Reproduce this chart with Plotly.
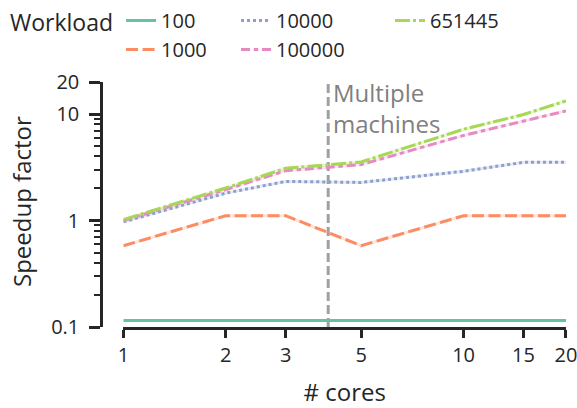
import math
import plotly.graph_objects as go

# ---------------- data ----------------
cores = [1, 2, 3, 5, 10, 15, 20]
workload_names = ["100", "1000", "10000", "100000", "651445"]
speedup_100 = [0.115, 0.115, 0.115, 0.115, 0.115, 0.115, 0.115]
speedup_1000 = [0.58, 1.11, 1.11, 0.58, 1.11, 1.11, 1.11]
speedup_10000 = [0.97, 1.81, 2.33, 2.28, 2.9, 3.52, 3.52]
speedup_100000 = [1.0, 1.95, 2.94, 3.35, 6.3, 8.6, 10.7]
speedup_651445 = [1.02, 2.02, 3.1, 3.55, 7.2, 9.9, 13.3]
x_tick_vals = [1, 2, 3, 5, 10, 15, 20]
x_tick_text = ["1", "2", "3", "5", "10", "15", "20"]
y_tick_vals = [0.1, 1, 10, 20]
y_tick_text = ["0.1", "1", "10", "20"]
y_minor_vals = [0.2, 0.3, 0.4, 0.5, 0.6, 0.7, 0.8, 0.9, 2, 3, 4, 5, 6, 7, 8, 9]
machines_threshold = 4
machines_label = "Multiple<br>machines"

series = [speedup_100, speedup_1000, speedup_10000, speedup_100000, speedup_651445]
colors = ["#66c2a5", "#fc8d62", "#8da0cb", "#e78ac3", "#a6d854"]
dashes = ["solid", "12px,4.5px", "3px,3px", "9px,3.75px,4.5px,3.75px", "15px,3px,3px,3px"]
legend_ids = ["legend", "legend", "legend2", "legend2", "legend3"]

FONT = "Open Sans"
TXT = "#262626"
FS_TEXT = 24
FS_NUM = 20

fig = go.Figure()

# vertical separator
fig.add_trace(go.Scatter(
    x=[machines_threshold, machines_threshold], y=[0.1, 20], mode="lines",
    line=dict(color="rgba(128,128,128,0.75)", width=3, dash="9px,4px"),
    showlegend=False, hoverinfo="skip", cliponaxis=False))

# faint halos under each line
for ys, c in zip(series, colors):
    fig.add_trace(go.Scatter(
        x=cores, y=ys, mode="lines", line=dict(color=c, width=3),
        opacity=0.22, showlegend=False, hoverinfo="skip", cliponaxis=False))

for name, ys, c, d, lg in zip(workload_names, series, colors, dashes, legend_ids):
    fig.add_trace(go.Scatter(
        x=cores, y=ys, mode="lines", name=name,
        line=dict(color=c, width=3, dash=d), legend=lg, cliponaxis=False))

W, H = 577, 408
left_px, right_px, top_px, bottom_px = 123.3, 565.7, 82.3, 326.7
yaxis_px = 101
paper_w = right_px  # margin l = 0
plot_h = bottom_px - top_px


def ydom(px):
    return (bottom_px - px) / plot_h


annotations = [
    dict(x=math.log10(machines_threshold), xref="x", y=ydom(108), yref="y domain",
         xanchor="left", yanchor="middle", xshift=3, align="left",
         text=machines_label, showarrow=False,
         font=dict(size=FS_TEXT, color="#808080")),
    dict(x=22 / paper_w, xref="paper", y=ydom(202), yref="y domain",
         xanchor="center", yanchor="middle", textangle=-90,
         text="Speedup factor", showarrow=False,
         font=dict(size=FS_TEXT, color=TXT)),
]

fig.update_layout(
    width=W, height=H,
    margin=dict(l=0, r=W - right_px, t=top_px, b=H - bottom_px, autoexpand=False),
    plot_bgcolor="white", paper_bgcolor="white",
    font=dict(family=FONT, size=FS_NUM, color=TXT),
    xaxis=dict(
        type="log", range=[0, math.log10(20)],
        domain=[left_px / paper_w, 1],
        tickmode="array", tickvals=x_tick_vals, ticktext=x_tick_text,
        ticks="outside", ticklen=8, tickwidth=2.5, tickcolor=TXT,
        showline=True, linewidth=2.5, linecolor=TXT,
        showgrid=False, zeroline=False, anchor="y",
        title=dict(text="# cores", standoff=20, font=dict(size=FS_TEXT)),
        tickfont=dict(size=FS_NUM), ticklabeloverflow="allow",
    ),
    yaxis=dict(
        type="log", range=[-1, math.log10(20)],
        anchor="free", position=yaxis_px / paper_w,
        tickmode="array", tickvals=y_tick_vals, ticktext=y_tick_text,
        ticks="outside", ticklen=11, tickwidth=2.5, tickcolor=TXT,
        minor=dict(tickmode="array", tickvals=y_minor_vals, ticks="outside",
                   ticklen=6, tickwidth=2, tickcolor=TXT, showgrid=False),
        showline=True, linewidth=2.5, linecolor=TXT,
        showgrid=False, zeroline=False,
        tickfont=dict(size=FS_NUM), ticklabelstandoff=6,
        ticklabeloverflow="allow",
    ),
    legend=dict(
        xref="container", yref="container", x=8 / W, y=1 - 1 / H,
        xanchor="left", yanchor="top", orientation="v",
        title=dict(text="Workload", side="left", font=dict(size=FS_TEXT - 1)),
        font=dict(size=FS_NUM), bgcolor="rgba(0,0,0,0)", itemwidth=30,
    ),
    legend2=dict(
        xref="container", yref="container", x=236 / W, y=1 - 1 / H,
        xanchor="left", yanchor="top", orientation="v",
        font=dict(size=FS_NUM), bgcolor="rgba(0,0,0,0)",
    ),
    legend3=dict(
        xref="container", yref="container", x=390 / W, y=1 - 1 / H,
        xanchor="left", yanchor="top", orientation="v",
        font=dict(size=FS_NUM), bgcolor="rgba(0,0,0,0)",
    ),
    annotations=annotations,
)

fig.write_html("out.html")
